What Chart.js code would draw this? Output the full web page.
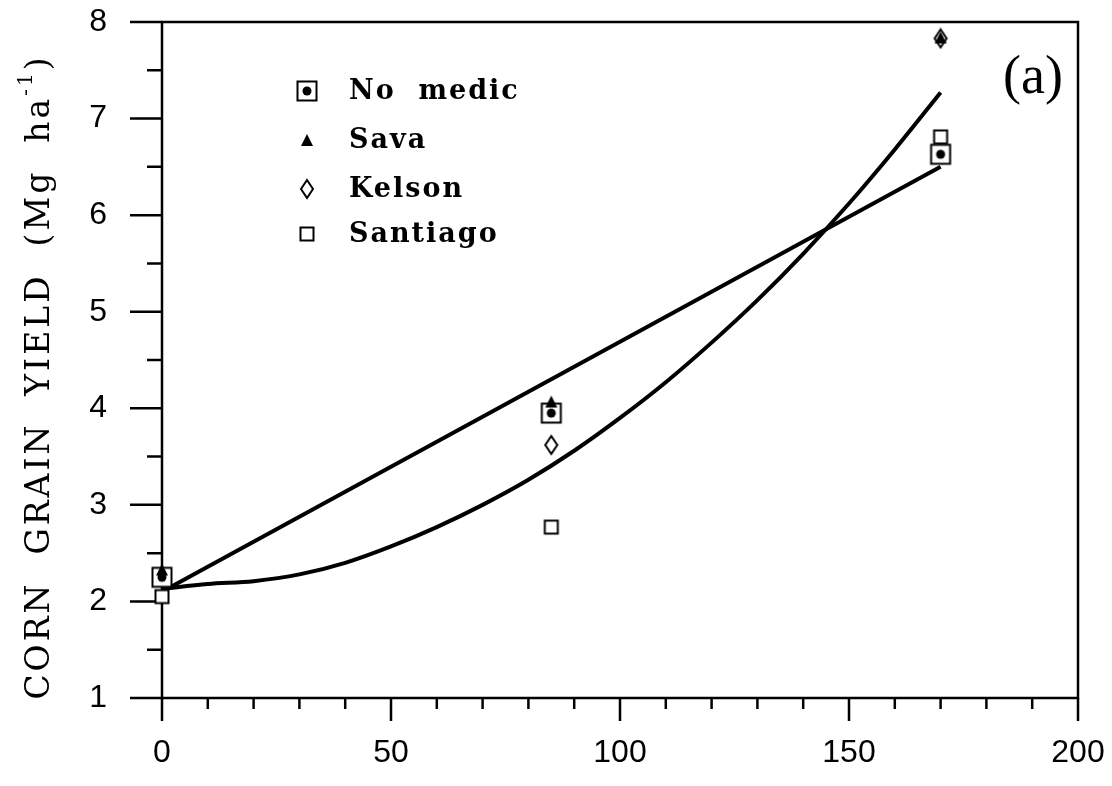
<!DOCTYPE html>
<html>
<head>
  <meta charset="UTF-8">
  <title>Corn grain yield</title>
  <script src="https://cdn.jsdelivr.net/npm/chart.js"></script>
  <style>
    html, body { margin: 0; padding: 0; background: #fff; overflow: hidden; }
    canvas { display: block; }
  </style>
</head>
<body>
  <canvas id="yieldChart" width="1112" height="786"></canvas>

  <script>
    // N rate (x) and yields per medic treatment
    const nRate = [0, 85, 170];
    const noMedic = [2.25, 3.95, 6.63];
    const sava = [2.33, 4.07, 7.84];
    const kelson = [2.25, 3.62, 7.83];
    const santiago = [2.05, 2.77, 6.81];

    // fitted lines
    const linX = [0, 170];
    const linY = [2.10, 6.50];
    const curveX = [0, 10, 20, 30, 40, 50, 60, 70, 80, 90, 100, 110, 120, 130, 140, 150, 160, 170];
    const curveY = [2.13, 2.18, 2.21, 2.28, 2.40, 2.57, 2.77, 3.00, 3.26, 3.56, 3.90, 4.27, 4.68, 5.12, 5.60, 6.12, 6.68, 7.27];

    const legendNames = ['No  medic', 'Sava', 'Kelson', 'Santiago'];
    const xTicks = [0, 50, 100, 150, 200];
    const yTicks = [1, 2, 3, 4, 5, 6, 7, 8];

    function pts(xs, ys) { return xs.map((x, i) => ({ x: x, y: ys[i] })); }

    // marker images
    function mk(w, h, draw) {
      const c = document.createElement('canvas');
      c.width = w; c.height = h;
      const g = c.getContext('2d');
      g.strokeStyle = '#000'; g.fillStyle = '#000'; g.lineWidth = 2;
      draw(g);
      return c;
    }
    const mNoMedic = mk(24, 24, g => {
      g.fillStyle = '#fff'; g.fillRect(2.5, 2.5, 19, 19);
      g.strokeRect(2.5, 2.5, 19, 19);
      g.fillStyle = '#000'; g.beginPath(); g.arc(12, 12, 4.5, 0, Math.PI * 2); g.fill();
    });
    const mSava = mk(14, 14, g => {
      g.beginPath(); g.moveTo(7, 1); g.lineTo(13, 13); g.lineTo(1, 13); g.closePath(); g.fill();
    });
    const mKelson = mk(16, 22, g => {
      g.fillStyle = '#fff';
      g.beginPath(); g.moveTo(8, 2); g.lineTo(14, 11); g.lineTo(8, 20); g.lineTo(2, 11); g.closePath();
      g.fill(); g.stroke();
    });
    const mSantiago = mk(18, 18, g => {
      g.fillStyle = '#fff'; g.fillRect(2.5, 2.5, 13, 13);
      g.strokeRect(2.5, 2.5, 13, 13);
    });
    const markers = [mNoMedic, mSava, mKelson, mSantiago];

    const frame = {
      id: 'frame',
      beforeDatasetsDraw(chart) {
        const { ctx, chartArea: a, scales } = chart;
        const xs = scales.x, ys = scales.y;
        ctx.save();
        ctx.strokeStyle = '#000';
        ctx.lineWidth = 2.5;
        ctx.lineCap = 'butt';
        ctx.strokeRect(a.left, a.top, a.right - a.left, a.bottom - a.top);
        ctx.beginPath();
        for (let v = 0; v <= 200; v += 10) {
          const p = xs.getPixelForValue(v);
          ctx.moveTo(p, a.bottom);
          ctx.lineTo(p, a.bottom + (v % 50 === 0 ? 23 : 11));
        }
        for (let v = 1; v <= 8.001; v += 0.5) {
          const p = ys.getPixelForValue(v);
          ctx.moveTo(a.left, p);
          ctx.lineTo(a.left - (Number.isInteger(v) ? 32 : 15), p);
        }
        ctx.stroke();
        ctx.restore();
      },
      afterDraw(chart) {
        const { ctx } = chart;
        ctx.save();
        ctx.fillStyle = '#000';

        // y title, rotated, with superscript
        ctx.letterSpacing = '3px';
        const main = 'CORN  GRAIN  YIELD  (Mg  ha';
        const tail = ')';
        ctx.font = '33px "DejaVu Serif"';
        const w1 = ctx.measureText(main).width;
        const w3 = ctx.measureText(tail).width;
        ctx.font = '20px "DejaVu Serif"';
        const w2 = ctx.measureText('-1').width;
        const total = w1 + w2 + w3;
        ctx.translate(40, 377);
        ctx.rotate(-Math.PI / 2);
        ctx.textBaseline = 'middle';
        ctx.textAlign = 'left';
        let x0 = -total / 2;
        ctx.font = '33px "DejaVu Serif"';
        ctx.fillText(main, x0, 0);
        ctx.font = '20px "DejaVu Serif"';
        ctx.fillText('-1', x0 + w1, -13);
        ctx.font = '33px "DejaVu Serif"';
        ctx.fillText(tail, x0 + w1 + w2, 0);
        ctx.restore();

        // legend
        ctx.save();
        ctx.fillStyle = '#000';
        ctx.font = 'bold 27px "DejaVu Serif"';
        ctx.letterSpacing = '2px';
        ctx.textBaseline = 'middle';
        const rows = [91, 140, 189, 234];
        legendNames.forEach((name, i) => {
          const m = markers[i];
          ctx.drawImage(m, 307 - m.width / 2, rows[i] - m.height / 2);
          ctx.fillText(name, 349, rows[i] + 1);
        });

        // panel label
        ctx.letterSpacing = '0px';
        ctx.font = '54px "Liberation Serif"';
        ctx.textAlign = 'right';
        ctx.fillText('(a)', 1063, 79);
        ctx.restore();
      }
    };

    const ctx = document.getElementById('yieldChart').getContext('2d');
    new Chart(ctx, {
      type: 'scatter',
      data: {
        datasets: [
          { label: 'Sava', data: pts(nRate, sava), pointStyle: mSava, clip: false },
          { label: 'No medic', data: pts(nRate, noMedic), pointStyle: mNoMedic, clip: false },
          { label: 'Kelson', data: pts(nRate, kelson), pointStyle: mKelson, clip: false },
          { label: 'Santiago', data: pts(nRate, santiago), pointStyle: mSantiago, clip: false },
          { label: 'linear', data: pts(linX, linY), showLine: true, borderColor: '#000', borderWidth: 4, pointRadius: 0, clip: false },
          { label: 'quadratic', data: pts(curveX, curveY), showLine: true, borderColor: '#000', borderWidth: 4, pointRadius: 0, tension: 0.4, cubicInterpolationMode: 'monotone', clip: false }
        ]
      },
      options: {
        responsive: false,
        animation: false,
        devicePixelRatio: 1,
        layout: { padding: { left: 0, top: 22, right: 34, bottom: 0 }, autoPadding: false },
        plugins: { legend: { display: false }, tooltip: { enabled: false } },
        scales: {
          x: {
            type: 'linear', min: 0, max: 200,
            afterFit(s) { s.height = 88; s.paddingLeft = 0; s.paddingRight = 0; },
            afterBuildTicks(s) { s.ticks = xTicks.map(v => ({ value: v })); },
            grid: { display: false, drawTicks: false },
            border: { display: false },
            ticks: { color: '#000', padding: 36, maxRotation: 0, font: { family: 'Liberation Sans', size: 32 } }
          },
          y: {
            type: 'linear', min: 1, max: 8,
            afterFit(s) { s.width = 162; s.paddingTop = 0; s.paddingBottom = 0; },
            afterBuildTicks(s) { s.ticks = yTicks.map(v => ({ value: v })); },
            grid: { display: false, drawTicks: false },
            border: { display: false },
            ticks: { color: '#000', padding: 55, font: { family: 'Liberation Sans', size: 32 } }
          }
        }
      },
      plugins: [frame]
    });
  </script>
</body>
</html>
